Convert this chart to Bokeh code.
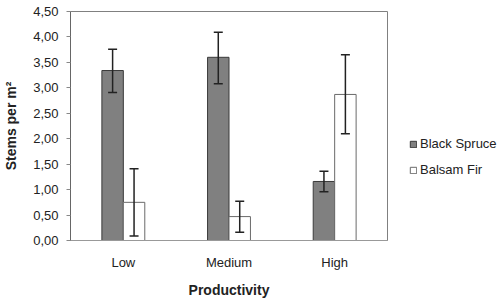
from bokeh.plotting import figure
from bokeh.models import (ColumnDataSource, FactorRange, Range1d, Whisker, TeeHead,
                          Legend, LegendItem, FixedTicker)
from bokeh.transform import dodge
from bokeh.embed import file_html
from bokeh.resources import INLINE

# Stem density by site productivity class
classes = ["Low", "Medium", "High"]
spruce_mean = [3.34, 3.60, 1.16]
spruce_upper = [3.76, 4.09, 1.36]
spruce_lower = [2.91, 3.08, 0.96]
fir_mean = [0.75, 0.47, 2.87]
fir_upper = [1.41, 0.77, 3.65]
fir_lower = [0.09, 0.16, 2.10]

y_ticks = [0.0, 0.5, 1.0, 1.5, 2.0, 2.5, 3.0, 3.5, 4.0, 4.5]
y_tick_labels = ["0,00", "0,50", "1,00", "1,50", "2,00", "2,50", "3,00", "3,50", "4,00", "4,50"]

src = ColumnDataSource(data=dict(
    cls=classes,
    sm=spruce_mean, su=spruce_upper, sl=spruce_lower,
    fm=fir_mean, fu=fir_upper, fl=fir_lower,
))

FONT = "Liberation Sans"
BAR_W = 0.203
OFF = 0.1015

p = figure(width=503, height=303, output_backend="svg", toolbar_location=None,
           x_range=FactorRange(*classes, range_padding=0), y_range=Range1d(0, 4.5),
           frame_width=317, frame_height=229,
           min_border_left=0, min_border_right=0, min_border_top=11,
           min_border_bottom=0)

r_spruce = p.vbar(x=dodge("cls", -OFF, range=p.x_range), top="sm", width=BAR_W,
                  source=src, fill_color="#808080", line_color="#3a3a3a", line_width=1)
r_fir = p.vbar(x=dodge("cls", OFF, range=p.x_range), top="fm", width=BAR_W,
               source=src, fill_color="white", line_color="#6a6a6a", line_width=1)

for xo, up, lo in [(-OFF, "su", "sl"), (OFF, "fu", "fl")]:
    w = Whisker(base=dodge("cls", xo, range=p.x_range), upper=up, lower=lo, source=src,
                level="overlay", line_color="#222222", line_width=1.5,
                upper_head=TeeHead(size=9, line_color="#222222", line_width=1.5),
                lower_head=TeeHead(size=9, line_color="#222222", line_width=1.5))
    p.add_layout(w)

p.xgrid.visible = False
p.ygrid.visible = False
p.outline_line_color = "#808080"
p.outline_line_width = 1
p.background_fill_color = "white"
p.border_fill_color = "white"

# y axis
p.yaxis.ticker = FixedTicker(ticks=y_ticks)
p.yaxis.major_label_overrides = {t: l for t, l in zip(y_ticks, y_tick_labels)}
p.yaxis.minor_tick_line_color = None
p.yaxis.major_tick_in = 0
p.yaxis.major_tick_out = 4
p.yaxis.major_tick_line_color = "#888888"
p.yaxis.axis_line_color = "#666666"
p.yaxis.major_label_text_font = FONT
p.yaxis.major_label_text_font_size = "13px"
p.yaxis.major_label_text_color = "#222222"
p.yaxis.major_label_standoff = 8
p.yaxis.axis_label = "Stems per m²"
p.yaxis.axis_label_text_font = FONT
p.yaxis.axis_label_text_font_size = "14px"
p.yaxis.axis_label_text_font_style = "bold"
p.yaxis.axis_label_text_color = "#222222"
p.yaxis.axis_label_standoff = 11

# x axis
p.xaxis.major_tick_line_color = None
p.xaxis.axis_line_color = "#999999"
p.xaxis.major_label_text_font = FONT
p.xaxis.major_label_text_font_size = "13px"
p.xaxis.major_label_text_color = "#222222"
p.xaxis.major_label_standoff = 8
p.xaxis.axis_label = "Productivity"
p.xaxis.axis_label_text_font = FONT
p.xaxis.axis_label_text_font_size = "14px"
p.xaxis.axis_label_text_font_style = "bold"
p.xaxis.axis_label_text_color = "#222222"
p.xaxis.axis_label_standoff = 9

legend = Legend(items=[LegendItem(label="Black Spruce", renderers=[r_spruce]),
                       LegendItem(label="Balsam Fir", renderers=[r_fir])],
                location=(22, 63), orientation="vertical",
                label_text_font=FONT, label_text_font_size="13px",
                label_text_color="#222222",
                glyph_width=8, glyph_height=8, label_standoff=3,
                spacing=11, padding=0, margin=0,
                border_line_color=None, background_fill_alpha=0)
p.add_layout(legend, "right")

open("out.html", "w").write(file_html(p, INLINE))
